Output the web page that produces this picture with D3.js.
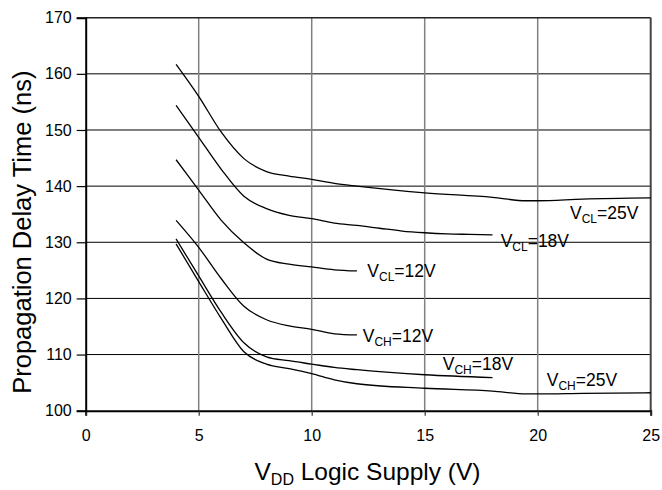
<!DOCTYPE html>
<html><head><meta charset="utf-8">
<script src="https://cdn.jsdelivr.net/npm/d3@7"></script>
<style>
body{margin:0;background:#fff;}
text{font-family:"Liberation Sans",Arial,sans-serif;fill:#000;}
</style></head>
<body><svg id="c" width="662" height="490"></svg>
<script>
// ---- data ----
const xTicks = [0,5,10,15,20,25];
const yTicks = [100,110,120,130,140,150,160,170];
const xCL25 = [4,5,6,7,8,9,10,11,12,15,18,19.5,20,22,25];
const yCL25 = [161.7,156,149.6,144.9,142.6,141.8,141.2,140.5,140,138.8,138,137.4,137.4,137.7,137.9];
const xCL18 = [4,5,6,7,8,9,10,11,12,13,14,15,16,17,18];
const yCL18 = [154.4,148.7,143,138.2,136,134.8,134.2,133.4,133,132.5,132,131.7,131.5,131.4,131.3];
const xCL12 = [4,5,6,7,8,9,10,11,12];
const yCL12 = [144.7,139.3,133.9,129.9,127,126.1,125.6,125.1,124.9];
const xCH12 = [4,5,6,7,8,9,10,11,12];
const yCH12 = [133.9,129.1,123.5,118.6,116.2,115.1,114.5,113.7,113.5];
const xCH18 = [4,5,6,7,8,9,10,11,12,15,18];
const yCH18 = [130.6,124,117.5,112.1,109.6,108.9,108.3,107.7,107.3,106.4,105.9];
const xCH25 = [4,5,6,7,8,9,10,11,12,15,18,19.5,20,22,25];
const yCH25 = [129.7,123,116.4,110.5,108.3,107.5,106.6,105.5,104.8,104,103.5,103,103,103.1,103.2];
const seriesMain = ["V","V","V","V","V","V"];
const seriesSub = ["CL","CL","CL","CH","CH","CH"];
const seriesRest = ["=25V","=18V","=12V","=12V","=18V","=25V"];

// ---- chart ----
const svg = d3.select("#c");
const L = 85.7, R = 650.7, T = 17.7, B = 410.7;
const x = d3.scaleLinear().domain([0,25]).range([L,R]);
const y = d3.scaleLinear().domain([100,170]).range([B,T]);

// horizontal grid
svg.append("g").selectAll("line").data(yTicks.filter(d=>d>100 && d<170)).join("line")
  .attr("x1",L).attr("x2",R).attr("y1",d=>y(d)).attr("y2",d=>y(d))
  .attr("stroke","#000").attr("stroke-width",1);
// vertical grid
svg.append("g").selectAll("line").data(xTicks.filter(d=>d>0 && d<25)).join("line")
  .attr("x1",d=>x(d)).attr("x2",d=>x(d)).attr("y1",T).attr("y2",B)
  .attr("stroke","#808080").attr("stroke-width",1.5);

// frame top/right
svg.append("line").attr("x1",L).attr("x2",R).attr("y1",T).attr("y2",T).attr("stroke","#222").attr("stroke-width",1.5);
svg.append("line").attr("x1",R).attr("x2",R).attr("y1",T).attr("y2",B).attr("stroke","#444").attr("stroke-width",2);

// axes
const xAxis = d3.axisBottom(x).tickValues(xTicks).tickSize(5).tickPadding(14);
const gx = svg.append("g").attr("transform",`translate(0,${B})`).call(xAxis);
gx.select(".domain").attr("stroke","#000").attr("stroke-width",2);
gx.selectAll(".tick line").attr("stroke","#333").attr("stroke-width",1.2);
gx.selectAll(".tick text").attr("font-size",16).attr("font-family","Liberation Sans, Arial").attr("fill","#000");

const yAxis = d3.axisLeft(y).tickValues(yTicks).tickSize(9).tickPadding(5);
const gy = svg.append("g").attr("transform",`translate(${L},0)`).call(yAxis);
gy.select(".domain").attr("stroke","#000").attr("stroke-width",2);
gy.selectAll(".tick line").attr("stroke","#000").attr("stroke-width",1.2);
gy.selectAll(".tick text").attr("font-size",16).attr("font-family","Liberation Sans, Arial").attr("fill","#000");

// curves
const xs = [xCL25,xCL18,xCL12,xCH12,xCH18,xCH25];
const ys = [yCL25,yCL18,yCL12,yCH12,yCH18,yCH25];
const line = d3.line().x(d=>x(d[0])).y(d=>y(d[1])).curve(d3.curveMonotoneX);
xs.forEach((xa,i)=>{
  const pts = xa.map((v,j)=>[v,ys[i][j]]);
  svg.append("path").attr("d",line(pts)).attr("fill","none").attr("stroke","#000").attr("stroke-width",1.3);
});

// curve labels (anchors in data units)
const labelAt = [[21.43,134.23],[18.36,129.23],[12.46,123.75],[12.26,112.32],[15.8,107.21],[20.4,104.41]];
labelAt.forEach((p,i)=>{
  const t = svg.append("text").attr("x",x(p[0])).attr("y",y(p[1])).attr("font-size",17.5);
  t.append("tspan").text(seriesMain[i]);
  t.append("tspan").attr("font-size",12).attr("dy",4).text(seriesSub[i]);
  t.append("tspan").attr("dy",-4).text(seriesRest[i]);
});

// x title
const xt = svg.append("text").attr("x",(252+483)/2).attr("y",480).attr("text-anchor","middle").attr("font-size",24.5);
xt.append("tspan").text("V");
xt.append("tspan").attr("font-size",16).attr("dy",5).text("DD");
xt.append("tspan").attr("dy",-5).text(" Logic Supply (V)");

// y title
svg.append("text").attr("transform",`translate(31,${(T+B)/2 + 18}) rotate(-90)`)
  .attr("text-anchor","middle").attr("font-size",25.5).text("Propagation Delay Time (ns)");
</script></body></html>
